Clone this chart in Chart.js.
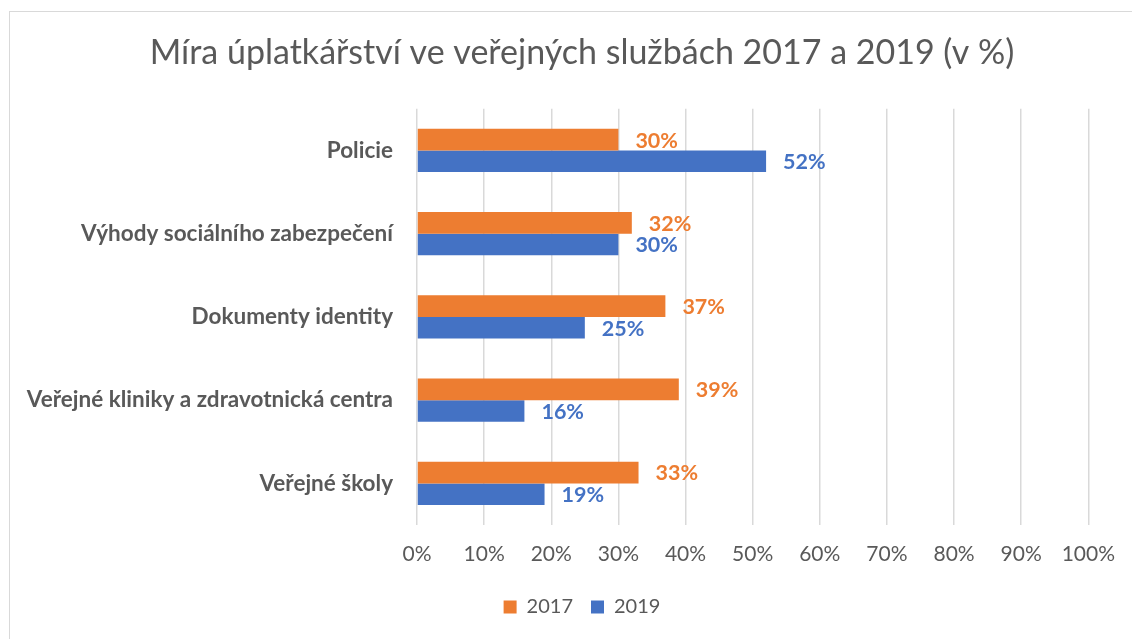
<!DOCTYPE html>
<html>
<head>
<meta charset="utf-8">
<script src="https://cdn.jsdelivr.net/npm/chart.js@4/dist/chart.umd.min.js"></script>
<style>
  html, body { margin: 0; padding: 0; background: #fff; }
  #wrap { width: 1132px; height: 639px; }
</style>
</head>
<body>
<div id="wrap"><canvas id="bribeChart" width="1132" height="639"></canvas></div>
<script>
const categories = [
    'Policie',
    'Výhody sociálního zabezpečení',
    'Dokumenty identity',
    'Veřejné kliniky a zdravotnická centra',
    'Veřejné školy'
];
const values2017 = [30, 32, 37, 39, 33];
const values2019 = [52, 30, 25, 16, 19];
const xTicks = [0, 10, 20, 30, 40, 50, 60, 70, 80, 90, 100];

const ORANGE = '#ED7D31';
const BLUE = '#4472C4';
const GREY_TEXT = '#595959';

// thin frame like the Excel chart border (only top/left visible)
const framePlugin = {
    id: 'frame',
    beforeDraw(chart) {
        const ctx = chart.ctx;
        ctx.save();
        ctx.fillStyle = '#fff';
        ctx.fillRect(0, 0, chart.width, chart.height);
        ctx.strokeStyle = '#d9d9d9';
        ctx.lineWidth = 1;
        ctx.strokeRect(9.5, 11.5, chart.width + 20, chart.height + 20);
        ctx.restore();
    }
};

// let the long category names run past the left padding (label clip uses scale.left)
const widenYLabels = {
    id: 'widenYLabels',
    afterLayout(chart) {
        chart.scales.y.left = 0;
    }
};

// value labels at the end of each bar
const valueLabels = {
    id: 'valueLabels',
    afterDatasetsDraw(chart) {
        const ctx = chart.ctx;
        ctx.save();
        ctx.font = 'bold 21.5px Lato';
        ctx.textAlign = 'left';
        ctx.textBaseline = 'middle';
        chart.data.datasets.forEach((ds, i) => {
            const meta = chart.getDatasetMeta(i);
            ctx.fillStyle = ds.backgroundColor;
            meta.data.forEach((bar, j) => {
                ctx.fillText(ds.data[j] + '%', bar.x + 17, bar.y + 1);
            });
        });
        ctx.restore();
    }
};

const ctx = document.getElementById('bribeChart').getContext('2d');
const bribeChart = new Chart(ctx, {
    type: 'bar',
    data: {
        labels: categories,
        datasets: [
            { label: '2017', data: values2017, backgroundColor: ORANGE, borderWidth: 0 },
            { label: '2019', data: values2019, backgroundColor: BLUE, borderWidth: 0 }
        ]
    },
    options: {
        indexAxis: 'y',
        responsive: false,
        animation: false,
        datasets: { bar: { categoryPercentage: 0.52, barPercentage: 1.0 } },
        layout: { padding: { left: 74, right: 42, top: 0, bottom: 12 } },
        plugins: {
            title: {
                display: true,
                text: 'Míra úplatkářství ve veřejných službách 2017 a 2019 (v %)',
                color: GREY_TEXT,
                font: { family: 'Lato', size: 34, weight: 'normal' },
                padding: { top: 33, bottom: 35 }
            },
            legend: {
                position: 'bottom',
                labels: {
                    color: GREY_TEXT,
                    font: { family: 'Lato', size: 20 },
                    boxWidth: 13,
                    boxHeight: 13,
                    padding: 18
                }
            },
            tooltip: { enabled: false }
        },
        scales: {
            x: {
                min: 0,
                max: 100,
                afterBuildTicks(scale) {
                    scale.ticks = xTicks.map(v => ({ value: v }));
                },
                afterFit(scale) { scale.height = 54; },
                ticks: {
                    color: GREY_TEXT,
                    font: { family: 'Lato', size: 21 },
                    padding: 17,
                    callback: v => v + '%'
                },
                grid: { color: '#d9d9d9', lineWidth: 1.5, drawTicks: false },
                border: { display: false }
            },
            y: {
                afterFit(scale) { scale.width = 343; },
                ticks: {
                    color: GREY_TEXT,
                    font: { family: 'Lato', size: 22.5, weight: 'bold' },
                    padding: 16
                },
                grid: { display: false },
                border: { display: false }
            }
        }
    },
    plugins: [framePlugin, widenYLabels, valueLabels]
});
</script>
</body>
</html>
